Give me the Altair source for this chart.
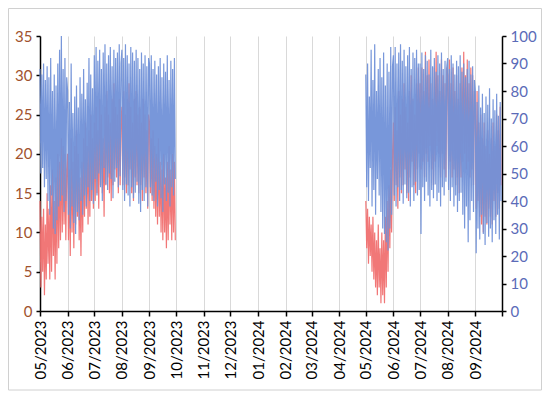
import altair as alt
import pandas as pd

# Daily readings (alternating high / low), 1 May - 30 Sep of each year
temp_2023 = [14,3, 12,5, 13,2, 11,4, 15,6, 13,4, 16,5, 18,7, 14,4, 17,6, 20,8, 19,9, 22,10, 21,11, 20,9, 18,
             20,9, 18,7, 22,10, 19,8, 21,11, 23,12, 20,9, 17,7, 19,10, 22,12, 24,13, 21,11, 23,12, 25,14, 22,13,
             24,14, 26,15, 23,13, 27,16, 25,15, 22,12, 26,16, 28,17, 25,15, 24,14, 27,16, 29,18, 26,17, 25,15, 27,16, 24,
             26,16, 28,17, 25,15, 27,16, 29,18, 26,15, 24,14, 27,17, 28,16, 25,15, 26,16, 24,14, 27,17, 25,15, 23,13, 25,
             24,15, 22,14, 23,13, 21,12, 20,11, 22,12, 19,10, 18,9, 20,10, 17,8, 19,9, 21,11, 18,9, 20,10, 19,9]

hum_2023 = [88,50, 86,52, 90,45, 84,48, 89,40, 85,35, 92,42, 80,30, 86,28, 82,33, 90,38, 95,40, 100,42, 88,36, 92,40, 85,
            80,35, 76,30, 90,38, 72,32, 78,28, 82,36, 74,33, 85,40, 79,35, 88,42, 77,38, 83,45, 92,40, 86,44, 81,39,
            93,48, 96,42, 91,50, 95,45, 88,40, 94,52, 97,46, 90,44, 93,50, 96,48, 89,41, 95,47, 92,52, 94,45, 97,49, 90,
            95,44, 92,40, 97,46, 93,42, 90,38, 96,45, 94,41, 91,43, 95,47, 92,39, 88,36, 94,44, 90,40, 93,45, 89,38, 92,
            90,45, 93,42, 88,40, 91,47, 86,38, 89,44, 92,41, 85,36, 90,46, 87,40, 93,43, 84,38, 91,45, 88,42, 92,48]

temp_2024 = [14,8, 13,6, 12,7, 11,5, 12,4, 10,3, 9,2, 11,3, 8,1, 10,2, 9,1, 12,3, 14,5, 16,8, 18,10, 20,
             24,14, 26,16, 23,13, 28,17, 25,15, 27,16, 29,18, 26,15, 24,14, 28,17, 30,19, 27,16, 25,15, 29,18, 31,20,
             29,18, 31,19, 28,17, 33,20, 30,19, 32,21, 29,18, 27,16, 31,19, 33,21, 30,20, 28,17, 32,20, 30,18, 29,17, 31,
             30,18, 32,19, 29,17, 31,18, 28,16, 30,17, 27,15, 29,17, 31,19, 33,20, 30,18, 32,19, 29,17, 31,18, 30,16, 28,
             26,13, 28,14, 24,12, 25,11, 22,10, 24,12, 21,11, 23,13, 20,12, 22,11, 24,14, 21,12, 25,15, 23,13, 26,16]

hum_2024 = [86,45, 90,40, 78,52, 95,38, 84,44, 97,35, 80,48, 88,42, 92,36, 85,30, 94,28, 82,25, 90,22, 87,30, 96,35, 89,
            93,42, 96,38, 90,45, 94,40, 97,44, 91,39, 95,46, 89,41, 93,43, 96,38, 88,45, 94,40, 92,47, 95,42, 90,44,
            90,28, 94,45, 88,40, 93,47, 91,42, 86,38, 95,44, 89,41, 92,46, 87,40, 93,43, 90,38, 94,45, 88,42, 91,47, 89,
            92,44, 88,40, 93,45, 90,38, 86,42, 91,36, 89,40, 93,43, 87,35, 90,30, 85,38, 88,25, 91,33, 86,40, 89,36, 84,
            80,21, 76,30, 82,26, 74,35, 79,28, 72,24, 78,32, 75,27, 81,30, 70,25, 77,33, 73,28, 79,35, 71,26, 76,40]

month_ticks = [(2023, m) for m in range(5, 13)] + [(2024, m) for m in range(1, 11)]


def frame(year, values):
    d = pd.date_range(f"{year}-05-01", periods=len(values), freq="D")
    return pd.DataFrame({"date": d.strftime("%Y-%m-%dT%H:%M:%S"), "value": values, "season": str(year)})


temp_df = pd.concat([frame(2023, temp_2023), frame(2024, temp_2024)])
hum_df = pd.concat([frame(2023, hum_2023), frame(2024, hum_2024)])

FONT = "Lato"

x_enc = alt.X(
    "date:T",
    scale=alt.Scale(domain=[alt.DateTime(year=2023, month=5, date=1),
                            alt.DateTime(year=2024, month=10, date=1)]),
    axis=alt.Axis(
        values=[alt.DateTime(year=y, month=m, date=1) for y, m in month_ticks],
        labelExpr="datum.value >= datetime(2024, 9, 1) ? '' : timeFormat(datum.value, '%m/%Y')",
        labelAngle=-90,
        labelFont=FONT,
        labelFontSize=15,
        labelColor="black",
        labelPadding=4,
        grid=True,
        gridColor="#d9d9d9",
        gridWidth=1,
        domainColor="black",
        domainWidth=1.5,
        tickColor="black",
        tickWidth=1.5,
        tickSize=5,
        title=None,
    ),
)

temp_line = alt.Chart(temp_df).mark_line(strokeWidth=1.2, color="#F07070", opacity=0.95).encode(
    x=x_enc,
    y=alt.Y("value:Q", scale=alt.Scale(domain=[0, 35], nice=False),
            axis=alt.Axis(values=list(range(0, 36, 5)), labelColor="#A0522D", labelFont=FONT,
                          labelFontSize=15, grid=False, domainColor="black", domainWidth=1.5,
                          tickColor="black", tickWidth=1.5, tickSize=4, labelPadding=4, title=None)),
    detail="season:N",
)

hum_line = alt.Chart(hum_df).mark_line(strokeWidth=1.2, color="#7191D8", opacity=0.95).encode(
    x=x_enc,
    y=alt.Y("value:Q", scale=alt.Scale(domain=[0, 100], nice=False),
            axis=alt.Axis(orient="right", values=list(range(0, 101, 10)), labelColor="#5B6BB8",
                          labelFont=FONT, labelFontSize=15, grid=False, domainColor="black",
                          domainWidth=1.5, tickColor="black", tickWidth=1.5, tickSize=4,
                          labelPadding=4, title=None)),
    detail="season:N",
)

frame_rect = alt.Chart(pd.DataFrame({"a": [0]})).mark_rect(
    fillOpacity=0, color="white", stroke="#d0d0d0", strokeWidth=1
).encode(x=alt.value(-31.5), x2=alt.value(501.5), y=alt.value(-27.5), y2=alt.value(354))

chart = alt.layer(frame_rect, temp_line, hum_line).resolve_scale(y="independent").properties(
    width=462,
    height=275,
    autosize=alt.AutoSizeParams(type="none"),
    padding={"left": 32, "top": 28, "right": 40, "bottom": 82},
).configure_view(stroke=None)

chart.save("out.html", embed_options={"renderer": "svg", "actions": False})
